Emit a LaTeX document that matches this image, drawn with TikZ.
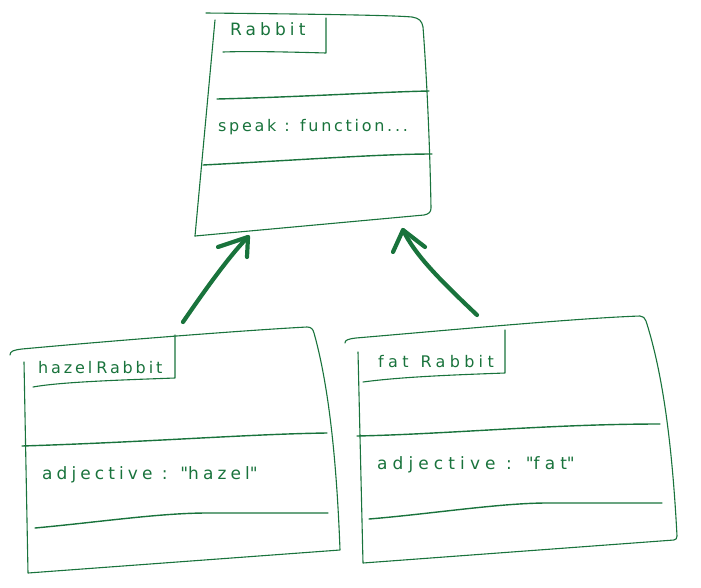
\documentclass[tikz,border=0pt]{standalone}
\usepackage{fontspec}
\setmainfont{DejaVu Sans}
\definecolor{ink}{RGB}{25,115,60}
\begin{document}
\begin{tikzpicture}[x=1pt,y=-1pt, line join=round, line cap=round,
  outline/.style={draw=ink, line width=1.1pt},
  divider/.style={draw=ink, line width=1.4pt},
  arrowline/.style={draw=ink, line width=4.2pt},
  namelbl/.style={text=ink, font=\fontsize{16}{18}\selectfont\addfontfeature{LetterSpace=#1}, inner sep=0pt, anchor=west},
  namelbl/.default=18,
  lbl/.style={text=ink, font=\fontsize{17}{19}\selectfont\addfontfeature{LetterSpace=#1}, inner sep=0pt, anchor=west},
  lbl/.default=24]
\useasboundingbox (0,0) rectangle (701,587);

% ---------- Rabbit (top) ----------
\draw[outline] (206,13) .. controls (300,14) and (390,15) .. (412,17)
  .. controls (419,18) and (422,21) .. (423,27)
  .. controls (427,80) and (430,150) .. (431,208)
  .. controls (431,212) and (429,214) .. (424,215) -- (195,236);
\draw[outline] (195,236) -- (215,20);
\draw[outline] (326,18) -- (326,53) .. controls (290,52) and (250,51) .. (223,52);
\draw[divider] (217,99) .. controls (300,97) and (380,92) .. (429,91);
\draw[divider] (203,165) .. controls (300,160) and (380,154) .. (432,154);
\node[text=ink, inner sep=0pt, anchor=west, font=\fontsize{17}{19}\selectfont\addfontfeature{LetterSpace=24}] (rabbitName) at (230,29) {Rabbit};
\node[text=ink, inner sep=0pt, anchor=west, font=\fontsize{16}{18}\selectfont\addfontfeature{LetterSpace=17}] (rabbitSpeak) at (218,127) {speak : function...};
\coordinate (rabbitL) at (248,237);
\coordinate (rabbitR) at (403,230);

% ---------- hazelRabbit ----------
\draw[outline] (10,355) .. controls (10,351) and (14,350) .. (22,349)
  .. controls (120,340) and (250,330) .. (307,327)
  .. controls (311,327) and (313,329) .. (314,333)
  .. controls (330,390) and (337,470) .. (340,550) -- (28,573) -- (24,362);
\draw[outline] (175,335) -- (175,378) .. controls (120,380) and (60,382) .. (33,387);
\draw[divider] (22,446) .. controls (150,442) and (250,434) .. (327,433);
\draw[divider] (35,528) .. controls (100,522) and (160,513) .. (207,513) -- (328,513);
\node[namelbl=18] (hazelName) at (38,368) {hazel\hspace{4pt}Rabbit};
\node[lbl=24] (hazelAdj) at (42,475) {adjective : \textquotedbl hazel\textquotedbl};
\coordinate (hazelTop) at (183,322);

% ---------- fatRabbit ----------
\draw[outline] (345,343) .. controls (345,340) and (348,339) .. (356,338)
  .. controls (450,330) and (580,318) .. (640,316)
  .. controls (643,316) and (645,318) .. (646,321)
  .. controls (665,380) and (673,460) .. (677,536)
  .. controls (677,538) and (676,540) .. (674,540) -- (363,563) -- (358,352);
\draw[outline] (505,330) -- (505,373) .. controls (450,375) and (400,377) .. (363,382);
\draw[divider] (357,436) .. controls (450,434) and (550,424) .. (660,424);
\draw[divider] (369,519) .. controls (430,514) and (500,503) .. (547,503) -- (662,503);
\node[namelbl=27] (fatName) at (378,362) {fat\hspace{12pt}Rabbit};
\node[lbl=30] (fatAdj) at (377,465) {adjective : \textquotedbl fat\textquotedbl};
\coordinate (fatTop) at (477,315);

% ---------- inheritance arrows ----------
\draw[arrowline] (hazelTop) .. controls (205,290) and (230,255) .. (rabbitL);
\draw[arrowline] (rabbitL) ++(-30,10) -- (rabbitL) -- ++(-1,20);
\draw[arrowline] (fatTop) .. controls (440,280) and (415,255) .. (rabbitR);
\draw[arrowline] (rabbitR) ++(-10,22) -- (rabbitR) -- ++(22,17);
\end{tikzpicture}
\end{document}
